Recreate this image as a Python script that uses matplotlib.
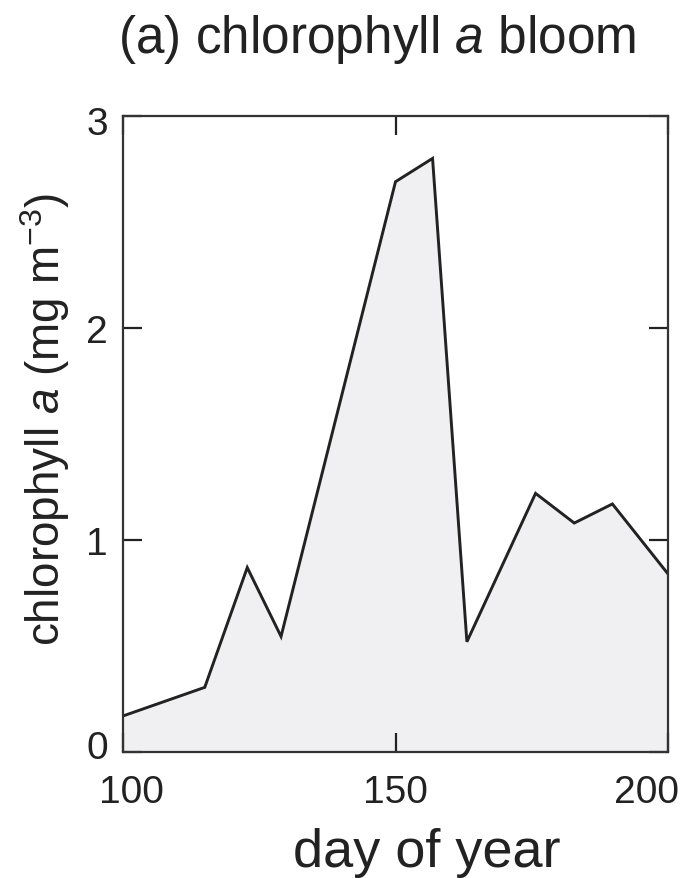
import matplotlib
matplotlib.use("Agg")
import matplotlib.pyplot as plt
import matplotlib.transforms as mtransforms

plt.rcParams['font.family'] = ['Liberation Sans', 'DejaVu Sans']
plt.rcParams['mathtext.fontset'] = 'custom'
plt.rcParams['mathtext.rm'] = 'Liberation Sans'
plt.rcParams['mathtext.it'] = 'Liberation Sans:italic'

# Chlorophyll a time series
day = [100, 115.0, 122.8, 129.0, 150.0, 156.8, 163.1, 175.7, 182.8, 189.8, 200.0]
chl = [0.17, 0.305, 0.87, 0.545, 2.69, 2.80, 0.52, 1.22, 1.08, 1.17, 0.84]

xticks = [100, 150, 200]
yticks = [0, 1, 2, 3]

W, H = 689, 879
fig = plt.figure(figsize=(W / 100, H / 100), dpi=100)
ax = fig.add_axes([123 / W, 1 - 753 / H, 545 / W, 636 / H])

ink = '#222222'
ax.fill_between(day, chl, 0, color='#f0f0f2', linewidth=0)
ax.plot(day, chl, color=ink, linewidth=2.1, solid_joinstyle='miter')

ax.set_xlim(100, 200)
ax.set_ylim(0, 2.98)
ax.set_xticks(xticks)
ax.set_yticks(yticks)
ax.tick_params(direction='in', length=14, width=1.6, colors=ink,
               top=True, right=True, labelsize=28)
ax.tick_params(axis='x', pad=16)
ax.tick_params(axis='y', pad=11)
for s in ax.spines.values():
    s.set_linewidth(1.6)
    s.set_color('#333333')


def nudge(label, dx, dy):
    label.set_transform(label.get_transform() +
                        mtransforms.ScaledTranslation(dx / 100, dy / 100, fig.dpi_scale_trans))


# keep the corner labels clear of each other
xl = ax.get_xticklabels()
nudge(xl[0], 8, 0)
nudge(xl[-1], -21, 0)
yl = ax.get_yticklabels()
nudge(yl[0], 0, 8)
nudge(yl[-1], 0, -4)

fig.text(427 / W, 1 - 853 / H, 'day of year', fontsize=39, color=ink,
         ha='center', va='center')
fig.text(45 / W, 1 - 420 / H, r'chlorophyll $\mathit{a}$ (mg m$^{-3}$)', fontsize=33,
         color=ink, rotation=90, ha='center', va='center')
fig.text(377 / W, 1 - 40 / H, r'(a) chlorophyll $\mathit{a}$ bloom', fontsize=37,
         color=ink, ha='center', va='center')

fig.savefig('out.png', dpi=100)
